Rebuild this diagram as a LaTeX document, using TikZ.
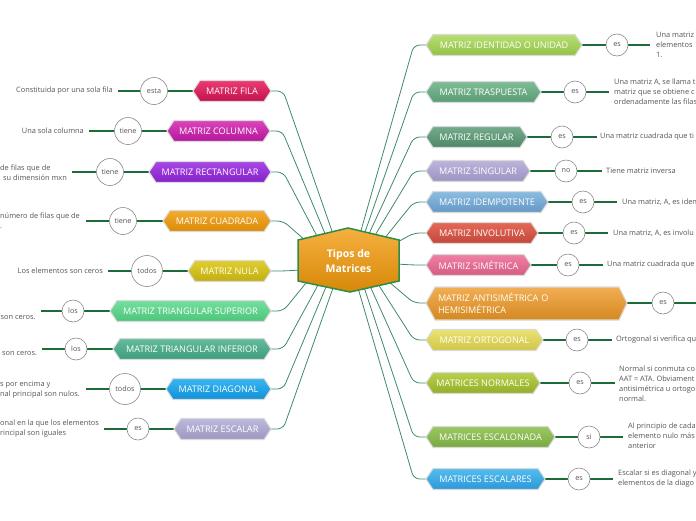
\documentclass[tikz,border=0pt]{standalone}
\usepackage{fontspec}
\setmainfont{Open Sans}
\pgfdeclarelayer{bg}
\pgfsetlayers{bg,main}
\definecolor{connc}{HTML}{3E8A68}
\definecolor{linkc}{HTML}{1E6B3A}
\definecolor{circc}{HTML}{8A8A8A}
\definecolor{txtc}{HTML}{555555}
\definecolor{boxline}{HTML}{DADADA}
\definecolor{hexT}{HTML}{F6B040}
\definecolor{hexB}{HTML}{D68808}
\definecolor{hexline}{HTML}{2D8C46}
% left
\definecolor{a1t}{HTML}{EC3A72}\definecolor{a1b}{HTML}{C4124C}
\definecolor{a2t}{HTML}{DC44BC}\definecolor{a2b}{HTML}{B4169A}
\definecolor{a3t}{HTML}{A848E6}\definecolor{a3b}{HTML}{8420C8}
\definecolor{a4t}{HTML}{F4AC2E}\definecolor{a4b}{HTML}{DA8A08}
\definecolor{a5t}{HTML}{E0CE30}\definecolor{a5b}{HTML}{C2AE10}
\definecolor{a6t}{HTML}{74E09E}\definecolor{a6b}{HTML}{4CC47A}
\definecolor{a7t}{HTML}{64BC9C}\definecolor{a7b}{HTML}{3E9C7C}
\definecolor{a8t}{HTML}{38B6F2}\definecolor{a8b}{HTML}{1090D8}
\definecolor{a9t}{HTML}{BCB8DC}\definecolor{a9b}{HTML}{9C98C0}
% right
\definecolor{b1t}{HTML}{B8DE74}\definecolor{b1b}{HTML}{92C244}
\definecolor{b2t}{HTML}{7EBC94}\definecolor{b2b}{HTML}{5A9C74}
\definecolor{b3t}{HTML}{74AC8C}\definecolor{b3b}{HTML}{4E8868}
\definecolor{b4t}{HTML}{BCB4DC}\definecolor{b4b}{HTML}{9C94C0}
\definecolor{b5t}{HTML}{8CBCE0}\definecolor{b5b}{HTML}{6498C4}
\definecolor{b6t}{HTML}{E46858}\definecolor{b6b}{HTML}{C4483A}
\definecolor{b7t}{HTML}{F080A4}\definecolor{b7b}{HTML}{D45C84}
\definecolor{b8t}{HTML}{F2AE54}\definecolor{b8b}{HTML}{D48820}
\definecolor{b9t}{HTML}{EAE274}\definecolor{b9b}{HTML}{D0C648}
\definecolor{b10t}{HTML}{B8D04C}\definecolor{b10b}{HTML}{94AE28}
\definecolor{b11t}{HTML}{9CC864}\definecolor{b11b}{HTML}{78A840}
\definecolor{b12t}{HTML}{54BCEE}\definecolor{b12b}{HTML}{2C98D8}
\tikzset{
  boxtext/.style={inner sep=0pt, minimum height=21pt, text=white, font=\fontsize{9.1}{11}\selectfont},
  circ/.style={circle, draw=circc, fill=white, line width=0.6pt, minimum size=22pt, inner sep=1pt, text=txtc, font=\fontsize{7.2}{8}\selectfont},
  big/.style={minimum size=27pt},
  bigger/.style={minimum size=31pt},
  note/.style={inner sep=0pt, text=txtc, font=\fontsize{7.4}{10}\selectfont, align=left},
  conn/.style={draw=connc, line width=0.8pt, rounded corners=6pt},
  link/.style={draw=linkc, line width=1.6pt},
}
\newcommand{\hexb}[7]{%
  \path[top color=#5, bottom color=#6, draw=boxline, line width=1.1pt]
    (#2,#4) -- ({#2+7},{#4-10.5}) -- ({#3-7},{#4-10.5}) -- (#3,#4) -- ({#3-7},{#4+10.5}) -- ({#2+7},{#4+10.5}) -- cycle;
  \node[boxtext, minimum width={#3-#2}] (#1) at ({(#2+#3)/2},#4) {#7};
}
\begin{document}
\begin{tikzpicture}[x=1pt,y=-1pt]
\useasboundingbox (0,0) rectangle (696,520);
% central node
\path[top color=hexT, bottom color=hexB, draw=hexline, line width=1.5pt]
  (298,240) -- (348,228) -- (399,240) -- (399,281) -- (350,292) -- (298,281) -- cycle;
\node[font=\bfseries\fontsize{10.5}{15}\selectfont, text=white, align=center] (ctr) at (348.5,261) {Tipos de\\Matrices};
% hub coordinates
\coordinate (h1) at (333,234); \coordinate (h2) at (326,236); \coordinate (h3) at (318,238);
\coordinate (h4) at (306,241); \coordinate (h5) at (301,270); \coordinate (h6) at (306,283);
\coordinate (h7) at (318,285); \coordinate (h8) at (326,287); \coordinate (h9) at (333,288);
\coordinate (k1) at (360,234); \coordinate (k2) at (364,235); \coordinate (k3) at (368,236);
\coordinate (k4) at (374,237); \coordinate (k5) at (384,239); \coordinate (k6) at (396,243);
\coordinate (k7) at (396,264); \coordinate (k8) at (388,281); \coordinate (k9) at (378,284);
\coordinate (k10) at (370,286); \coordinate (k11) at (364,287); \coordinate (k12) at (358,288);
% left boxes
\hexb{fila}{193}{271}{91}{a1t}{a1b}{MATRIZ FILA}
\hexb{colu}{167}{270}{131}{a2t}{a2b}{MATRIZ COLUMNA}
\hexb{rect}{149}{271}{172}{a3t}{a3b}{MATRIZ RECTANGULAR}
\hexb{cuad}{163}{271}{221}{a4t}{a4b}{MATRIZ CUADRADA}
\hexb{nula}{188}{271}{271}{a5t}{a5b}{MATRIZ NULA}
\hexb{tsup}{110}{271}{311}{a6t}{a6b}{MATRIZ TRIANGULAR SUPERIOR}
\hexb{tinf}{113}{271}{349}{a7t}{a7b}{MATRIZ TRIANGULAR INFERIOR}
\hexb{diag}{166}{271}{389}{a8t}{a8b}{MATRIZ DIAGONAL}
\hexb{esca}{174}{271}{429}{a9t}{a9b}{MATRIZ ESCALAR}
% right boxes
\hexb{iden}{426}{582}{45}{b1t}{b1b}{MATRIZ IDENTIDAD O UNIDAD}
\hexb{tras}{426}{541}{92}{b2t}{b2b}{MATRIZ TRASPUESTA}
\hexb{regu}{426}{527}{137}{b3t}{b3b}{MATRIZ REGULAR}
\hexb{sing}{426}{530}{171}{b4t}{b4b}{MATRIZ SINGULAR}
\hexb{idem}{426}{548}{202}{b5t}{b5b}{MATRIZ IDEMPOTENTE}
\hexb{invo}{426}{538}{233}{b6t}{b6b}{MATRIZ INVOLUTIVA}
\hexb{sime}{426}{531}{265}{b7t}{b7b}{MATRIZ SIMÉTRICA}
\path[top color=b8t, bottom color=b8b, draw=boxline, line width=1.1pt]
  (426,303) -- (435,287) -- (619,287) -- (627,303) -- (619,320) -- (435,320) -- cycle;
\node[boxtext, text width=177pt, minimum width=201pt, minimum height=33pt, align=left, font=\fontsize{9.1}{12}\selectfont] (anti) at (526.5,303) {MATRIZ ANTISIMÉTRICA O\\HEMISIMÉTRICA};
\hexb{orto}{426}{543}{340}{b9t}{b9b}{MATRIZ ORTOGONAL}
\hexb{norm}{426}{540}{383}{b10t}{b10b}{MATRICES NORMALES}
\hexb{eslo}{426}{555}{437}{b11t}{b11b}{MATRICES ESCALONADA}
\hexb{esres}{426}{545}{479}{b12t}{b12b}{MATRICES ESCALARES}
% circles left
\node[circ, big] (ca1) at (154,91) {esta};
\node[circ, big] (ca2) at (128,131) {tiene};
\node[circ, big] (ca3) at (110,172) {tiene};
\node[circ, big] (ca4) at (123,221) {tiene};
\node[circ, bigger] (ca5) at (147,271) {todos};
\node[circ] (ca6) at (73,311) {los};
\node[circ] (ca7) at (76,349) {los};
\node[circ, bigger] (ca8) at (125,389) {todos};
\node[circ] (ca9) at (138,429) {es};
% circles right
\node[circ] (cb1) at (617,45) {es};
\node[circ] (cb2) at (575,92) {es};
\node[circ] (cb3) at (562,137) {es};
\node[circ] (cb4) at (566,171) {no};
\node[circ] (cb5) at (583,202) {es};
\node[circ] (cb6) at (574,233) {es};
\node[circ] (cb7) at (568,265) {es};
\node[circ] (cb8) at (663,303) {es};
\node[circ] (cb9) at (577,340) {es};
\node[circ] (cb10) at (580,383) {es};
\node[circ] (cb11) at (589,437) {si};
\node[circ] (cb12) at (579,479) {es};
% free ends
\coordinate (ea1) at (118,91); \coordinate (ea2) at (89,131); \coordinate (ea3) at (72,172);
\coordinate (ea4) at (86,221); \coordinate (ea5) at (108,271); \coordinate (ea6) at (41,311);
\coordinate (ea7) at (42,349); \coordinate (ea8) at (86,389); \coordinate (ea9) at (104,429);
\coordinate (eb1) at (650,45); \coordinate (eb2) at (609,92); \coordinate (eb3) at (597,137);
\coordinate (eb4) at (602,171); \coordinate (eb5) at (617,202); \coordinate (eb6) at (608,233);
\coordinate (eb7) at (603,265); \coordinate (eb8) at (697,303); \coordinate (eb9) at (612,340);
\coordinate (eb10) at (615,383); \coordinate (eb11) at (623,437); \coordinate (eb12) at (613,479);
% notes left
\node[note, anchor=east] (ta1) at (113,91) {Constituida por una sola fila};
\node[note, anchor=east] (ta2) at (84,131) {Una sola columna};
\node[note, anchor=west] (ta3) at (0,173) {de filas que de\\\hspace*{3pt}su dimensión mxn};
\node[note, anchor=west] (ta4) at (0,221) {número de filas que de\\.};
\node[note, anchor=east] (ta5) at (103,271) {Los elementos son ceros};
\node[note, anchor=west] (ta6) at (0.5,318) {son ceros.};
\node[note, anchor=west] (ta7) at (2,354) {son ceros.};
\node[note, anchor=west] (ta8) at (0,390) {s por encima y\\nal principal son nulos.};
\node[note, anchor=west] (ta9) at (0,429) {onal en la que los elementos\\rincipal son iguales};
% notes right
\node[note, anchor=west] (tb1) at (656,45) {Una matriz\\elementos\\1.};
\node[note, anchor=west] (tb2) at (614,92) {Una matriz A, se llama t\\matriz que se obtiene c\\ordenadamente las filas};
\node[note, anchor=west] (tb3) at (600,137) {Una matriz cuadrada que ti};
\node[note, anchor=west] (tb4) at (606,171) {Tiene matriz inversa};
\node[note, anchor=west] (tb5) at (622,202) {Una matriz, A, es iden};
\node[note, anchor=west] (tb6) at (613,233) {Una matriz, A, es involu};
\node[note, anchor=west] (tb7) at (607,265) {Una matriz cuadrada que};
\node[note, anchor=west] (tb9) at (616,340) {Ortogonal si verifica qu};
\node[note, anchor=west] (tb10) at (619,384) {Normal si conmuta co\\AAT = ATA. Obviament\\antisimétrica u ortogo\\normal.};
\node[note, anchor=west] (tb11) at (628,436) {Al principio de cada\\elemento nulo más\\anterior};
\node[note, anchor=west] (tb12) at (618,479) {Escalar si es diagonal y\\elementos de la diago};
% connectors
\begin{pgfonlayer}{bg}
\foreach \b/\h in {fila/h1,colu/h2,rect/h3,cuad/h4,nula/h5,tsup/h6,tinf/h7,diag/h8,esca/h9}
  \draw[conn] (\b.east) -- ++(12,0) -- (\h);
\foreach \b/\h in {iden/k1,tras/k2,regu/k3,sing/k4,idem/k5,invo/k6,sime/k7,anti/k8,orto/k9,norm/k10,eslo/k11,esres/k12}
  \draw[conn] (\b.west) -- ++(-12,0) -- (\h);
\foreach \b/\c/\e in {fila/ca1/ea1,colu/ca2/ea2,rect/ca3/ea3,cuad/ca4/ea4,nula/ca5/ea5,tsup/ca6/ea6,tinf/ca7/ea7,diag/ca8/ea8,esca/ca9/ea9}
  \draw[link] (\e) -- (\c) -- (\b.west);
\foreach \b/\c/\e in {iden/cb1/eb1,tras/cb2/eb2,regu/cb3/eb3,sing/cb4/eb4,idem/cb5/eb5,invo/cb6/eb6,sime/cb7/eb7,anti/cb8/eb8,orto/cb9/eb9,norm/cb10/eb10,eslo/cb11/eb11,esres/cb12/eb12}
  \draw[link] (\b.east) -- (\c) -- (\e);
\end{pgfonlayer}
\end{tikzpicture}
\end{document}
